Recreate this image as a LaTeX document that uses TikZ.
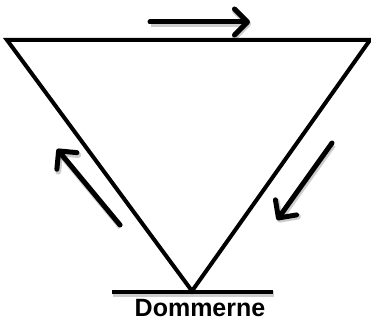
\documentclass[tikz,border=0pt]{standalone}
\usepackage{fontspec}
\setmainfont{Liberation Sans}
\usetikzlibrary{arrows.meta}

\begin{document}
\begin{tikzpicture}[
    x=1pt, y=-1pt,
    edge/.style={line width=4pt, line join=miter},
    soft/.style={preaction={draw, black, opacity=0.2, line width=6pt,
                 transform canvas={xshift=1pt, yshift=-2pt}}},
    flow/.style={soft, line width=5pt, line cap=round,
                 -{Straight Barb[length=13pt, width=26pt, round]}},
    lab/.style={font=\fontsize{25}{25}\selectfont\bfseries, inner sep=0pt, anchor=base},
  ]
  \useasboundingbox (0,0) rectangle (371,321);

  % triangle corners
  \coordinate (tl) at (7,40);
  \coordinate (tr) at (370,40);
  \coordinate (bot) at (192,291);
  \draw[edge] (tl) -- (tr) -- (bot) -- cycle;

  % base and name
  \coordinate (bL) at (112,292);
  \coordinate (bR) at (273,292);
  \draw[edge, soft] (bL) -- (bR);
  \node[lab] (dom) at (200,316.5) {Dommerne};

  % flow arrows
  \coordinate (topA) at (150,22);
  \coordinate (topB) at (250,22);
  \coordinate (rgtA) at (332,143);
  \coordinate (rgtB) at (277,220);
  \coordinate (lftA) at (120,225);
  \coordinate (lftB) at (57,149);
  \draw[flow] (topA) -- (topB);
  \draw[flow] (rgtA) -- (rgtB);
  \draw[flow] (lftA) -- (lftB);
\end{tikzpicture}
\end{document}
